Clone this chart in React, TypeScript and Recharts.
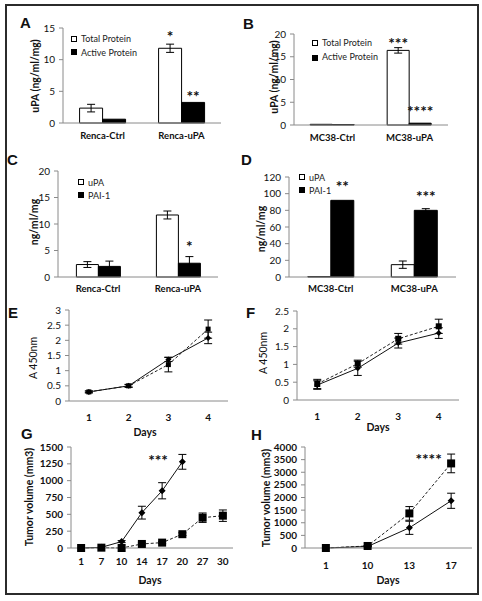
import React from "react"
import { BarChart, Bar, LineChart, Line, XAxis, YAxis, ErrorBar, LabelList, Legend, ReferenceDot } from "recharts"

const font = "Lato, 'Open Sans', sans-serif"
const axisGray = "#8a8a8a"
const ink = "#111"

// A - uPA protein in Renca cells
const rencaCats = ["Renca-Ctrl", "Renca-uPA"]
const aTotal = [2.35, 11.8]
const aTotalErr = [0.6, 0.65]
const aActive = [0.6, 3.25]
const aStarsTotal = ["", "*"]
const aStarsActive = ["", "**"]

// B - uPA protein in MC38 cells
const mc38Cats = ["MC38-Ctrl", "MC38-uPA"]
const bTotal = [0.15, 16.4]
const bTotalErr = [null, 0.6]
const bActive = [0.1, 0.4]
const bStarsTotal = ["", "***"]
const bStarsActive = ["", "****"]

// C - uPA / PAI-1 in Renca
const cUpa = [2.35, 11.7]
const cUpaErr = [0.55, 0.75]
const cPai = [2.0, 2.6]
const cPaiErr = [1.0, 1.25]
const cStarsPai = ["", "*"]

// D - uPA / PAI-1 in MC38
const dUpa = [0.5, 14.8]
const dUpaErr = [null, 4.4]
const dPai = [92, 80]
const dPaiErr = [null, 2]
const dStarsPai = ["**", "***"]

// E / F - proliferation
const daysEF = ["1", "2", "3", "4"]
const eSolid = [0.3, 0.5, 1.37, 2.08]
const eSolidErr = [0.03, 0.04, 0.07, 0.19]
const eDashed = [0.3, 0.5, 1.2, 2.37]
const eDashedErr = [0.03, 0.05, 0.24, 0.3]
const fSolid = [0.42, 0.89, 1.6, 1.88]
const fSolidErr = [0.12, 0.2, 0.14, 0.15]
const fDashed = [0.45, 1.02, 1.72, 2.07]
const fDashedErr = [0.13, 0.1, 0.15, 0.2]

// G / H - tumor growth
const daysG = ["1", "7", "10", "14", "17", "20", "27", "30"]
const gSolid = [0, 10, 95, 525, 850, 1280, null, null]
const gSolidErr = [0, 0, 15, 95, 120, 110, null, null]
const gDashed = [0, 5, 0, 60, 80, 205, 450, 480]
const gDashedErr = [0, 0, 0, 15, 15, 20, 70, 85]
const daysH = ["1", "10", "13", "17"]
const hSolid = [0, 60, 800, 1870]
const hSolidErr = [0, 20, 260, 300]
const hDashed = [0, 80, 1370, 3350]
const hDashedErr = [0, 20, 270, 370]

const starLabel = (gap: number) => (p: any) => {
  if (!p.value) return null
  return (
    <text x={p.x + p.width / 2} y={p.y - gap} textAnchor="middle" fontSize={15.5} fontWeight={700} fill={ink} fontFamily={font}>
      {p.value}
    </text>
  )
}

const vTitle = (text: string, x: number, y: number, bold = true) => ({
  content: () => (
    <text x={x} y={y} transform={`rotate(-90 ${x} ${y})`} textAnchor="middle" dominantBaseline="central"
      fontSize={10.5} fontWeight={bold ? 700 : 400} fill={ink} fontFamily={font}>
      {text}
    </text>
  ),
})

const hTitle = (text: string, x: number, y: number) => ({
  content: () => (
    <text x={x} y={y} textAnchor="middle" dominantBaseline="central" fontSize={10.5} fontWeight={700} fill={ink} fontFamily={font}>
      {text}
    </text>
  ),
})

function legendBox(names: string[], row: number) {
  return () => (
    <div style={{ fontFamily: font, fontSize: 9, color: "#222", lineHeight: `${row}px` }}>
      {names.map((n, i) => (
        <div key={n} style={{ display: "flex", alignItems: "center", whiteSpace: "nowrap" }}>
          <span style={{ display: "inline-block", width: 6, height: 6, border: "1px solid #000", boxSizing: "border-box", background: i ? "#000" : "#fff", marginRight: 4 }} />
          {n}
        </div>
      ))}
    </div>
  )
}

type Box = { left: number; top: number; w: number; h: number; yw: number; mt: number; mr: number; xh: number; tm: number }

function BarPanel(p: {
  box: Box; cats: string[]; s1: number[]; e1: (number | null)[] | null; s2: number[]; e2: (number | null)[] | null
  st1: string[]; st2: string[]; g1: number; g2: number; names: string[]; yMax: number; yTicks: number[]
  title: string; tx: number; ty: number; lx: number; ly: number; row: number; gap: string
}) {
  const b = p.box
  const rows = p.cats.map((c, i) => ({
    name: c, a: p.s1[i], aErr: p.e1 ? p.e1[i] : null, b: p.s2[i], bErr: p.e2 ? p.e2[i] : null, sa: p.st1[i], sb: p.st2[i],
  }))
  return (
    <div style={{ position: "absolute", left: b.left, top: b.top }}>
      <BarChart width={b.w} height={b.h} data={rows} margin={{ top: b.mt, right: b.mr, left: 0, bottom: 0 }} barCategoryGap={p.gap} barGap={0}>
        <XAxis xAxisId="grid" type="number" domain={[0, p.cats.length]} ticks={[1, 2]} tickFormatter={() => ""}
          height={0} axisLine={false} tickLine={{ stroke: axisGray }} tickSize={4} />
        <XAxis dataKey="name" height={b.xh} interval={0} axisLine={{ stroke: axisGray }} tickLine={false} tickSize={0} tickMargin={b.tm}
          tick={{ fill: ink, fontSize: 9.5, fontWeight: 700, fontFamily: font }} />
        <YAxis width={b.yw} domain={[0, p.yMax]} ticks={p.yTicks} interval={0} axisLine={{ stroke: axisGray }} tickLine={{ stroke: axisGray }} tickSize={4} tickMargin={4}
          tick={{ fill: ink, fontSize: 10, fontFamily: font }} label={vTitle(p.title, p.tx, p.ty)} />
        <Legend layout="vertical" align="center" verticalAlign="middle" content={legendBox(p.names, p.row)}
          wrapperStyle={{ left: p.lx, top: p.ly, width: "auto", height: "auto" }} />
        <Bar dataKey="a" fill="#fff" stroke="#000" strokeWidth={1} isAnimationActive={false}>
          {p.e1 && <ErrorBar dataKey="aErr" width={4} stroke="#000" strokeWidth={1} />}
          <LabelList dataKey="sa" content={starLabel(p.g1)} />
        </Bar>
        <Bar dataKey="b" fill="#000" stroke="#000" strokeWidth={1} isAnimationActive={false}>
          {p.e2 && <ErrorBar dataKey="bErr" width={4} stroke="#000" strokeWidth={1} />}
          <LabelList dataKey="sb" content={starLabel(p.g2)} />
        </Bar>
      </BarChart>
    </div>
  )
}

const diamond = (s: number) => (d: any) =>
  d.value == null || d.cx == null ? <g key={d.index} /> : (
    <path key={d.index} d={`M${d.cx},${d.cy - s}L${d.cx + s},${d.cy}L${d.cx},${d.cy + s}L${d.cx - s},${d.cy}Z`} fill="#000" />
  )
const square = (s: number) => (d: any) =>
  d.value == null || d.cx == null ? <g key={d.index} /> : (
    <rect key={d.index} x={d.cx - s} y={d.cy - s} width={2 * s} height={2 * s} fill="#000" />
  )

function LinePanel(p: {
  box: Box; days: string[]; solid: (number | null)[]; solidErr: (number | null)[]; dashed: number[]; dashedErr: number[]
  yMax: number; yTicks: number[]; boldY: boolean; title: string; titleBold: boolean; tx: number; ty: number; dx: number; dy: number
  ds: number; ss: number; star?: { text: string; x: number; y: number }
}) {
  const b = p.box
  const n = p.days.length
  const rows = p.days.map((_, i) => ({ i, a: p.solid[i], aErr: p.solidErr[i], b: p.dashed[i], bErr: p.dashedErr[i] }))
  return (
    <div style={{ position: "absolute", left: b.left, top: b.top }}>
      <LineChart width={b.w} height={b.h} data={rows} margin={{ top: b.mt, right: b.mr, left: 0, bottom: 0 }}>
        <XAxis xAxisId="grid" type="number" domain={[-0.5, n - 0.5]} ticks={p.days.map((_, i) => i + 0.5)} tickFormatter={() => ""}
          height={0} axisLine={false} tickLine={{ stroke: axisGray }} tickSize={4} />
        <XAxis dataKey="i" type="number" domain={[-0.5, n - 0.5]} ticks={p.days.map((_, i) => i)} tickFormatter={(v: number) => p.days[v]}
          interval={0} height={b.xh} axisLine={{ stroke: axisGray }} tickLine={false} tickSize={0} tickMargin={b.tm}
          tick={{ fill: ink, fontSize: 10, fontWeight: 700, fontFamily: font }} label={hTitle("Days", p.dx, p.dy)} />
        <YAxis width={b.yw} domain={[0, p.yMax]} ticks={p.yTicks} interval={0} axisLine={{ stroke: axisGray }} tickLine={{ stroke: axisGray }} tickSize={4} tickMargin={4}
          tick={{ fill: ink, fontSize: 10, fontWeight: p.boldY ? 700 : 400, fontFamily: font }} label={vTitle(p.title, p.tx, p.ty, p.titleBold)} />
        <Line dataKey="b" stroke="#222" strokeWidth={1} strokeDasharray="3 2" dot={square(p.ss)} activeDot={false} isAnimationActive={false}>
          <ErrorBar dataKey="bErr" width={4} stroke="#000" strokeWidth={1} direction="y" />
        </Line>
        <Line dataKey="a" stroke="#111" strokeWidth={1} dot={diamond(p.ds)} activeDot={false} isAnimationActive={false}>
          <ErrorBar dataKey="aErr" width={4} stroke="#000" strokeWidth={1} direction="y" />
        </Line>
        {p.star && (
          <ReferenceDot x={p.star.x} y={p.star.y} r={0} fill="none" stroke="none"
            label={{ value: p.star.text, position: "center", fontSize: 15.5, fontWeight: 700, fill: ink, fontFamily: font }} />
        )}
      </LineChart>
    </div>
  )
}

const letters = [
  { t: "A", x: 25, y: 23 }, { t: "B", x: 248, y: 24 }, { t: "C", x: 12, y: 160 }, { t: "D", x: 246, y: 160 },
  { t: "E", x: 13, y: 313 }, { t: "F", x: 251, y: 313 }, { t: "G", x: 26, y: 434 }, { t: "H", x: 256, y: 435 },
]

export default function App() {
  return (
    <div style={{ position: "absolute", left: 0, top: 0, width: 482, height: 601, background: "#fff", overflow: "hidden" }}>
      <div style={{ position: "absolute", left: 5, top: 4, width: 474, height: 591, border: "2px solid #2b2b2b", boxSizing: "border-box" }} />

      <BarPanel box={{ left: 8, top: 14, w: 217, h: 139, yw: 55, mt: 14, mr: 4, xh: 30, tm: 9 }}
        cats={rencaCats} s1={aTotal} e1={aTotalErr} s2={aActive} e2={null} st1={aStarsTotal} st2={aStarsActive} g1={6} g2={0}
        names={["Total Protein", "Active Protein"]} yMax={15} yTicks={[0, 5, 10, 15]} title="uPA (ng/ml/mg)" tx={27} ty={62}
        lx={63} ly={18} row={13.5} gap="21%" />
      <BarPanel box={{ left: 240, top: 14, w: 212, h: 141, yw: 54, mt: 20, mr: 4, xh: 30, tm: 9 }}
        cats={mc38Cats} s1={bTotal} e1={bTotalErr} s2={bActive} e2={null} st1={bStarsTotal} st2={bStarsActive} g1={1} g2={6}
        names={["Total Protein", "Active Protein"]} yMax={20} yTicks={[0, 5, 10, 15, 20]} title="uPA (ng/ml/mg)" tx={34} ty={63}
        lx={72} ly={22} row={14.4} gap="21%" />
      <BarPanel box={{ left: 8, top: 155, w: 214, h: 152, yw: 50, mt: 16, mr: 4, xh: 30, tm: 8.5 }}
        cats={rencaCats} s1={cUpa} e1={cUpaErr} s2={cPai} e2={cPaiErr} st1={["", ""]} st2={cStarsPai} g1={6} g2={11}
        names={["uPA", "PAI-1"]} yMax={20} yTicks={[0, 5, 10, 15, 20]} title="ng/ml/mg" tx={26} ty={67}
        lx={70} ly={20.5} row={13} gap="23%" />
      <BarPanel box={{ left: 240, top: 155, w: 220, h: 152, yw: 49, mt: 22, mr: 4, xh: 30, tm: 8.5 }}
        cats={mc38Cats} s1={dUpa} e1={dUpaErr} s2={dPai} e2={dPaiErr} st1={["", ""]} st2={dStarsPai} g1={6} g2={8}
        names={["uPA", "PAI-1"]} yMax={120} yTicks={[0, 20, 40, 60, 80, 100, 120]} title="ng/ml/mg" tx={21} ty={74}
        lx={59} ly={15.5} row={13} gap="22.5%" />

      <LinePanel box={{ left: 8, top: 300, w: 224, h: 141, yw: 61, mt: 10, mr: 4, xh: 40, tm: 12.5 }}
        days={daysEF} solid={eSolid} solidErr={eSolidErr} dashed={eDashed} dashedErr={eDashedErr}
        yMax={3} yTicks={[0, 0.5, 1, 1.5, 2, 2.5, 3]} boldY={false} title="A 450nm" titleBold={false} tx={25} ty={58}
        dx={137} dy={132} ds={3} ss={2.5} />
      <LinePanel box={{ left: 240, top: 300, w: 223, h: 140, yw: 57, mt: 11, mr: 4, xh: 40, tm: 13 }}
        days={daysEF} solid={fSolid} solidErr={fSolidErr} dashed={fDashed} dashedErr={fDashedErr}
        yMax={2.5} yTicks={[0, 0.5, 1, 1.5, 2, 2.5]} boldY={false} title="A 450nm" titleBold={false} tx={23} ty={53}
        dx={138} dy={127} ds={3} ss={3} />
      <LinePanel box={{ left: 8, top: 438, w: 229, h: 152, yw: 63, mt: 9, mr: 4, xh: 42, tm: 9.5 }}
        days={daysG} solid={gSolid} solidErr={gSolidErr} dashed={gDashed} dashedErr={gDashedErr}
        yMax={1500} yTicks={[0, 250, 500, 750, 1000, 1250, 1500]} boldY={true} title="Tumor volume (mm3)" titleBold={true} tx={21} ty={59}
        dx={142} dy={142} ds={3.5} ss={4} star={{ text: "***", x: 3.8, y: 1300 }} />
      <LinePanel box={{ left: 240, top: 438, w: 236, h: 152, yw: 65, mt: 9, mr: 4, xh: 42, tm: 13.5 }}
        days={daysH} solid={hSolid} solidErr={hSolidErr} dashed={hDashed} dashedErr={hDashedErr}
        yMax={4000} yTicks={[0, 500, 1000, 1500, 2000, 2500, 3000, 3500, 4000]} boldY={true} title="Tumor volume (mm3)" titleBold={true} tx={26} ty={60}
        dx={148} dy={142} ds={3.5} ss={4} star={{ text: "****", x: 2.46, y: 3500 }} />

      {letters.map((l) => (
        <div key={l.t} style={{ position: "absolute", left: l.x - 5, top: l.y - 8, fontFamily: "'Liberation Sans', Arial, sans-serif", fontSize: 15, fontWeight: 700, lineHeight: "16px", color: "#111" }}>
          {l.t}
        </div>
      ))}
    </div>
  )
}
